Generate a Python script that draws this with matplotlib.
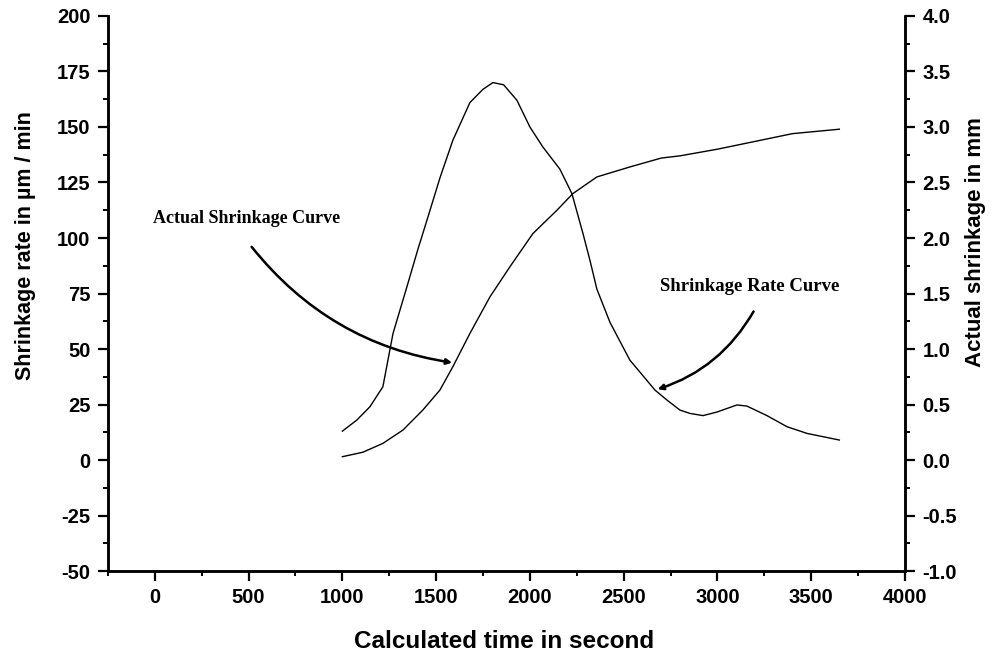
import numpy as np
import matplotlib.pyplot as plt
from matplotlib.ticker import MultipleLocator

plt.rcParams['axes.unicode_minus'] = False

# shrinkage rate (um/min) vs calculated time (s)
rate_time = [1000, 1077, 1147, 1216, 1243, 1270, 1344, 1403, 1451, 1520, 1589, 1680,
             1750, 1803, 1860, 1931, 2000, 2069, 2160, 2224, 2283, 2320, 2357, 2427,
             2533, 2667, 2731, 2800, 2853, 2923, 2997, 3104, 3157, 3264, 3371, 3477, 3650]
rate_vals = [13, 18, 24, 33, 45, 57, 78, 95, 108, 127, 144, 161,
             167, 170, 169, 162, 150, 141, 131, 120, 102, 90, 77, 62,
             45, 31.5, 27, 22.5, 21, 20, 21.6, 24.8, 24.3, 20, 15, 12, 9]

# actual shrinkage (mm) vs calculated time (s)
shrink_time = [1000, 1109, 1216, 1323, 1429, 1520, 1589, 1680, 1787, 1893, 2016,
               2144, 2229, 2357, 2533, 2700, 2800, 3000, 3200, 3400, 3650]
shrink_vals = [0.03, 0.07, 0.15, 0.27, 0.45, 0.63, 0.84, 1.14, 1.47, 1.74, 2.04,
               2.25, 2.40, 2.55, 2.64, 2.72, 2.74, 2.80, 2.87, 2.94, 2.98]

sans = ['Liberation Sans', 'DejaVu Sans']
serif = ['Liberation Serif', 'DejaVu Serif']

fig = plt.figure(figsize=(9.96, 6.55), dpi=100)
ax = fig.add_axes([0.1084, 0.1282, 0.8002, 0.8474])
ax2 = ax.twinx()

ax.plot(rate_time, rate_vals, color='black', lw=1.0)
ax2.plot(shrink_time, shrink_vals, color='black', lw=1.0)

ax.set_xlim(-250, 4000)
ax.set_ylim(-50, 200)
ax2.set_ylim(-1.0, 4.0)

ax.xaxis.set_major_locator(MultipleLocator(500))
ax.xaxis.set_minor_locator(MultipleLocator(250))
ax.yaxis.set_major_locator(MultipleLocator(25))
ax.yaxis.set_minor_locator(MultipleLocator(12.5))
ax2.yaxis.set_major_locator(MultipleLocator(0.5))
ax2.yaxis.set_minor_locator(MultipleLocator(0.25))
ax2.yaxis.set_major_formatter(plt.FormatStrFormatter('%.1f'))

for a in (ax, ax2):
    a.spines['top'].set_visible(False)
    for s in ('left', 'right', 'bottom'):
        a.spines[s].set_linewidth(1.8)
    a.tick_params(which='major', direction='out', length=7.5, width=1.6, pad=5)
    a.tick_params(which='minor', direction='out', length=3.8, width=1.4)
    for lbl in a.get_xticklabels() + a.get_yticklabels():
        lbl.set_fontfamily(sans)
        lbl.set_fontweight('bold')
        lbl.set_fontsize(14.5)

ax.set_xlabel('Calculated time in second', fontfamily=sans, fontweight='bold',
              fontsize=17.5, va='top')
ax.xaxis.set_label_coords(0.497, -0.106)
ax.set_ylabel('Shrinkage rate in \u00b5m / min', fontfamily=sans, fontweight='bold',
              fontsize=15.5)
ax.yaxis.set_label_coords(-0.090, 0.587)
ax2.set_ylabel('Actual shrinkage in mm', fontfamily=sans, fontweight='bold',
               fontsize=16)
ax2.yaxis.set_label_coords(1.075, 0.593)

# curve annotations
ax.annotate('', xy=(1600, 43.7), xytext=(507, 97),
            arrowprops=dict(arrowstyle='-|>', color='black', lw=1.8,
                            connectionstyle='arc3,rad=0.2', mutation_scale=8))
ax.text(-10, 109, 'Actual Shrinkage Curve', fontfamily=serif, fontweight='bold',
        fontsize=13, ha='left', va='center')

ax.annotate('', xy=(2667, 31.5), xytext=(3200, 68),
            arrowprops=dict(arrowstyle='-|>', color='black', lw=1.8,
                            connectionstyle='arc3,rad=-0.2', mutation_scale=8))
ax.text(3170, 78, 'Shrinkage Rate Curve', fontfamily=serif, fontweight='bold',
        fontsize=13.5, ha='center', va='center')

fig.savefig('out.png', dpi=100)
